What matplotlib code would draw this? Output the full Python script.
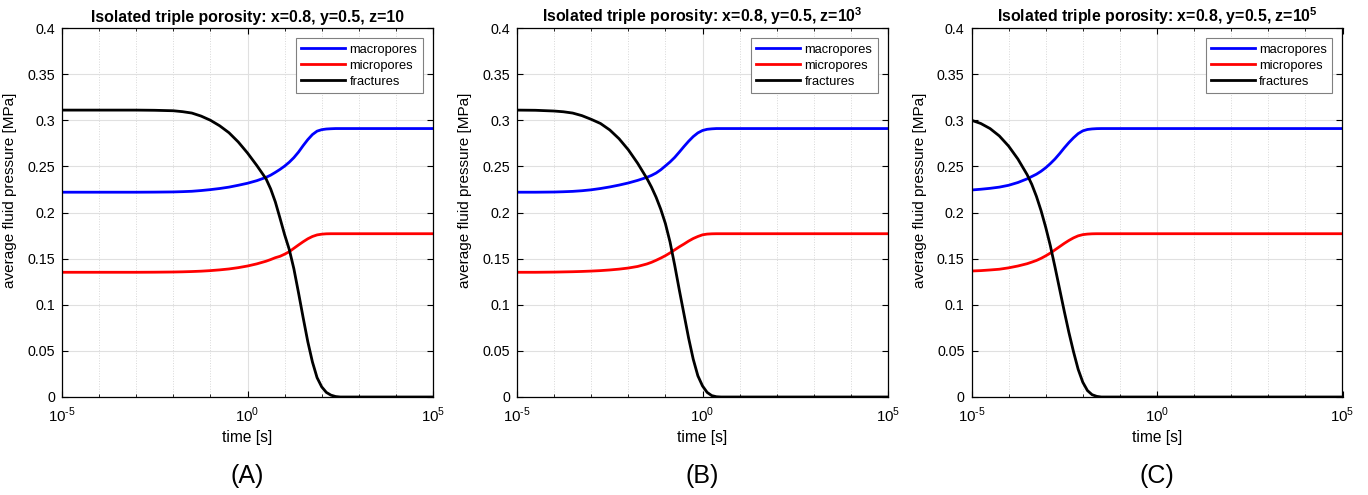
import numpy as np
import matplotlib
matplotlib.use("Agg")
from matplotlib import pyplot as plt
from matplotlib.ticker import NullFormatter

plt.rcParams['font.family'] = ['Liberation Sans', 'DejaVu Sans']
plt.rcParams['mathtext.fontset'] = 'custom'
plt.rcParams['mathtext.rm'] = 'Liberation Sans'
plt.rcParams['mathtext.bf'] = 'Liberation Sans:bold'
plt.rcParams['axes.unicode_minus'] = False

# valeurs (log10 du temps, pression moyenne en MPa)
logt_A = [-5, -3, -2.5, -2, -1.75, -1.5, -1.25, -1, -0.75, -0.5, -0.25, 0, 0.25, 0.5,
          0.625, 0.75, 0.875, 1.0, 1.125, 1.25, 1.375, 1.5, 1.625, 1.75, 1.875, 2.0,
          2.125, 2.25, 2.375, 2.5, 3, 5]
macro_A = [0.222, 0.222, 0.2221, 0.2223, 0.2226, 0.223, 0.2238, 0.2248, 0.226, 0.2275,
           0.2295, 0.2317, 0.2345, 0.2381, 0.2405, 0.2435, 0.2467, 0.2503, 0.2545, 0.2595,
           0.2655, 0.2725, 0.279, 0.2845, 0.2882, 0.2898, 0.2905, 0.2908, 0.291, 0.291,
           0.291, 0.291]
micro_A = [0.1352, 0.1352, 0.1353, 0.1355, 0.1357, 0.136, 0.1364, 0.137, 0.1378, 0.1388,
           0.1402, 0.142, 0.1443, 0.1472, 0.149, 0.151, 0.1525, 0.1548, 0.1575, 0.1612,
           0.1648, 0.1683, 0.1715, 0.174, 0.1757, 0.1765, 0.1769, 0.177, 0.177, 0.177,
           0.177, 0.177]
frac_A = [0.311, 0.311, 0.3108, 0.3103, 0.3093, 0.3078, 0.3045, 0.300, 0.294, 0.2865,
          0.2765, 0.2645, 0.251, 0.2365, 0.2255, 0.2115, 0.194, 0.176, 0.160, 0.139,
          0.113, 0.086, 0.060, 0.038, 0.021, 0.011, 0.005, 0.002, 0.0005, 0.0,
          0.0, 0.0]

logt_B = [-5, -4.5, -4, -3.75, -3.5, -3.25, -3, -2.75, -2.5, -2.25, -2, -1.75, -1.5,
          -1.375, -1.25, -1.125, -1, -0.875, -0.75, -0.625, -0.5, -0.375, -0.25, -0.125,
          0, 0.125, 0.25, 0.375, 0.5, 1, 5]
macro_B = [0.222, 0.222, 0.2222, 0.2225, 0.2229, 0.2236, 0.2246, 0.226, 0.2277, 0.2297,
           0.232, 0.2348, 0.2381, 0.2402, 0.2428, 0.2463, 0.2505, 0.2548, 0.2597, 0.2655,
           0.2715, 0.2772, 0.2823, 0.2863, 0.2889, 0.2902, 0.2907, 0.291, 0.291, 0.291,
           0.291]
micro_B = [0.1352, 0.1352, 0.1354, 0.1356, 0.1358, 0.1361, 0.1365, 0.137, 0.1377, 0.1386,
           0.1398, 0.1415, 0.1442, 0.146, 0.1482, 0.1506, 0.1532, 0.1562, 0.1595, 0.1628,
           0.1658, 0.169, 0.1718, 0.174, 0.1758, 0.1766, 0.1769, 0.177, 0.177, 0.177,
           0.177]
frac_B = [0.311, 0.3108, 0.3100, 0.3092, 0.3078, 0.3050, 0.3010, 0.2965, 0.2895, 0.2800,
          0.268, 0.2535, 0.237, 0.2275, 0.2165, 0.2035, 0.188, 0.168, 0.143, 0.116,
          0.090, 0.064, 0.041, 0.023, 0.012, 0.005, 0.0015, 0.0003, 0.0, 0.0,
          0.0]

logt_C = [-5, -4.75, -4.5, -4.25, -4, -3.75, -3.5, -3.375, -3.25, -3.125, -3, -2.875,
          -2.75, -2.625, -2.5, -2.375, -2.25, -2.125, -2, -1.875, -1.75, -1.625, -1.5,
          -1, 5]
macro_C = [0.2244, 0.2252, 0.2262, 0.2275, 0.2295, 0.2325, 0.2365, 0.239, 0.2415, 0.2447,
           0.2485, 0.253, 0.258, 0.2638, 0.270, 0.2758, 0.281, 0.2855, 0.2885, 0.290,
           0.2906, 0.2909, 0.291, 0.291, 0.291]
micro_C = [0.1366, 0.137, 0.1377, 0.1385, 0.140, 0.142, 0.1445, 0.1462, 0.148, 0.1503,
           0.153, 0.156, 0.1595, 0.163, 0.1665, 0.1697, 0.1725, 0.1747, 0.176, 0.1766,
           0.1769, 0.177, 0.177, 0.177, 0.177]
frac_C = [0.300, 0.2965, 0.291, 0.283, 0.272, 0.258, 0.241, 0.2305, 0.2175, 0.202,
          0.184, 0.164, 0.141, 0.117, 0.093, 0.070, 0.049, 0.030, 0.016, 0.007,
          0.0025, 0.0007, 0.0, 0.0, 0.0]

titres = [r'Isolated triple porosity: x=0.8, y=0.5, z=10',
          r'Isolated triple porosity: x=0.8, y=0.5, z=10$^{\mathbf{3}}$',
          r'Isolated triple porosity: x=0.8, y=0.5, z=10$^{\mathbf{5}}$']
lettres = ['(A)', '(B)', '(C)']
xlabels = [r'10$^{\text{-5}}$', r'10$^{\text{0}}$', r'10$^{\text{5}}$']

panneaux = [(logt_A, macro_A, micro_A, frac_A),
            (logt_B, macro_B, micro_B, frac_B),
            (logt_C, macro_C, micro_C, frac_C)]

gauches = [62 / 1368, 517 / 1368, 971.5 / 1368]
largeur = 371 / 1368
bas = 1 - 397 / 495
hauteur = 369 / 495

fig = plt.figure(figsize=(13.68, 4.95), dpi=100)

for k, (lt, ma, mi, fr) in enumerate(panneaux):
    ax = fig.add_axes([gauches[k], bas, largeur, hauteur])
    t = 10.0 ** np.array(lt)
    ax.plot(t, ma, color='b', lw=2, label='macropores')
    ax.plot(t, mi, color='r', lw=2, label='micropores')
    ax.plot(t, fr, color='k', lw=2, label='fractures')
    ax.set_xscale('log')
    ax.set_xlim(1e-5, 1e5)
    ax.set_ylim(0, 0.4)
    ax.set_xticks([1e-5, 1e0, 1e5])
    ax.set_xticklabels(xlabels)
    ax.set_xticks(10.0 ** np.arange(-4, 5), minor=True)
    ax.xaxis.set_minor_formatter(NullFormatter())
    ax.set_yticks(np.arange(0, 0.41, 0.05))
    ax.set_yticklabels(['0', '0.05', '0.1', '0.15', '0.2', '0.25', '0.3', '0.35', '0.4'])
    ax.tick_params(which='both', direction='in', top=True, right=True, labelsize=10.3)
    ax.tick_params(which='major', length=4, width=0.8)
    ax.tick_params(which='minor', length=2.5, width=0.6)
    ax.tick_params(axis='y', pad=5)
    ax.tick_params(axis='x', pad=6, labelsize=10.8)
    ax.grid(True, which='major', color='#e0e0e0', lw=0.8)
    ax.grid(True, which='minor', axis='x', color='#d8d8d8', lw=0.7, ls=':')
    ax.set_axisbelow(True)
    for s in ax.spines.values():
        s.set_linewidth(0.9)
    ax.set_title(titres[k], fontsize=11.4, fontweight='bold', pad=4)
    ax.set_xlabel('time [s]', fontsize=11.2, labelpad=4)
    ax.set_ylabel('average fluid pressure [MPa]', fontsize=11)
    ax.yaxis.set_label_coords(-0.121, 0.56)
    leg = ax.legend(loc='upper right', fontsize=9.3, fancybox=False, framealpha=1,
                    edgecolor='#808080', handlelength=3.4, borderaxespad=0.8,
                    labelspacing=0.32, handletextpad=0.35, borderpad=0.4)
    leg.get_frame().set_linewidth(0.8)
    fig.text(gauches[k] + largeur / 2, 0.038, lettres[k], ha='center', va='center', fontsize=18)

fig.savefig('out.png', dpi=100)
